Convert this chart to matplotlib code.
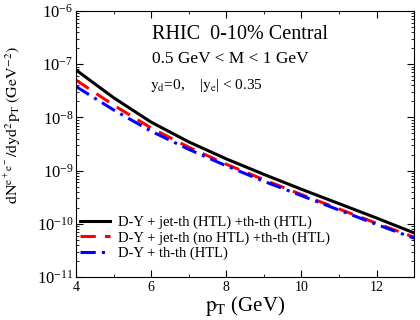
import matplotlib
matplotlib.use("Agg")
import matplotlib.pyplot as plt
import numpy as np
from matplotlib.ticker import MultipleLocator, LogLocator, NullFormatter

plt.rcParams['font.family'] = ['Liberation Serif', 'DejaVu Serif']
plt.rcParams['mathtext.fontset'] = 'stix'

# pT grid and log10 of the yields
pt = [4, 5, 6, 7, 8, 9, 10, 11, 12, 13]
log_jet_htl = [-7.11, -7.63, -8.09, -8.46, -8.78, -9.07, -9.35, -9.62, -9.89, -10.17]
log_jet_nohtl = [-7.30, -7.77, -8.20, -8.56, -8.88, -9.17, -9.45, -9.72, -9.99, -10.25]
log_thth = [-7.42, -7.86, -8.26, -8.60, -8.91, -9.20, -9.47, -9.74, -10.01, -10.27]

labels = ["D-Y + jet-th (HTL) +th-th (HTL)",
          "D-Y + jet-th (no HTL) +th-th (HTL)",
          "D-Y + th-th (HTL)"]

fig = plt.figure(figsize=(4.2, 3.2), dpi=100)
ax = fig.add_axes([0.181, 0.134, 0.805, 0.832])

ax.plot(pt, 10 ** np.array(log_jet_htl), color='black', lw=2.2, label=labels[0])
ax.plot(pt, 10 ** np.array(log_jet_nohtl), color='red', lw=2.2, ls=(0, (5, 3)), label=labels[1])
ax.plot(pt, 10 ** np.array(log_thth), color='blue', lw=2.2, ls=(0, (5, 2, 1, 2)), label=labels[2])

ax.set_yscale('log')
ax.set_xlim(4, 13)
ax.set_ylim(1e-11, 1e-6)

ax.xaxis.set_major_locator(MultipleLocator(2))
ax.xaxis.set_minor_locator(MultipleLocator(1))
ax.yaxis.set_major_locator(LogLocator(base=10, numticks=10))
ax.yaxis.set_minor_locator(LogLocator(base=10, subs=np.arange(2, 10), numticks=20))
ax.yaxis.set_minor_formatter(NullFormatter())
ax.tick_params(which='both', direction='in', top=True, right=True)
ax.tick_params(which='major', length=5)
ax.tick_params(which='minor', length=2.5)
ax.tick_params(axis='x', labelsize=10, pad=3)
ax.tick_params(axis='y', labelsize=12, pad=2)

ax.set_xlabel(r'$\mathrm{p_T}$ (GeV)', fontsize=15, labelpad=0)
ax.set_ylabel(r'$\mathrm{dN^{e^+e^-}/dyd^2p_T\ (GeV^{-2})}$', fontsize=11.5)
ax.yaxis.set_label_coords(-0.15, 0.57)

ax.text(0.225, 0.895, 'RHIC  0-10% Central', transform=ax.transAxes, fontsize=14.5)
ax.text(0.225, 0.805, r'0.5 GeV < M < 1 GeV', transform=ax.transAxes, fontsize=12.5)
ax.text(0.22, 0.705, r'$\mathrm{y_d}$=0,    |$\mathrm{y_e}$| < 0.35', transform=ax.transAxes, fontsize=11)

ax.legend(loc='lower left', bbox_to_anchor=(-0.015, 0.03), frameon=False, fontsize=10.5,
          handlelength=2.1, handletextpad=0.5, labelspacing=0.15, borderaxespad=0.2)

fig.savefig('out.png', dpi=100)
